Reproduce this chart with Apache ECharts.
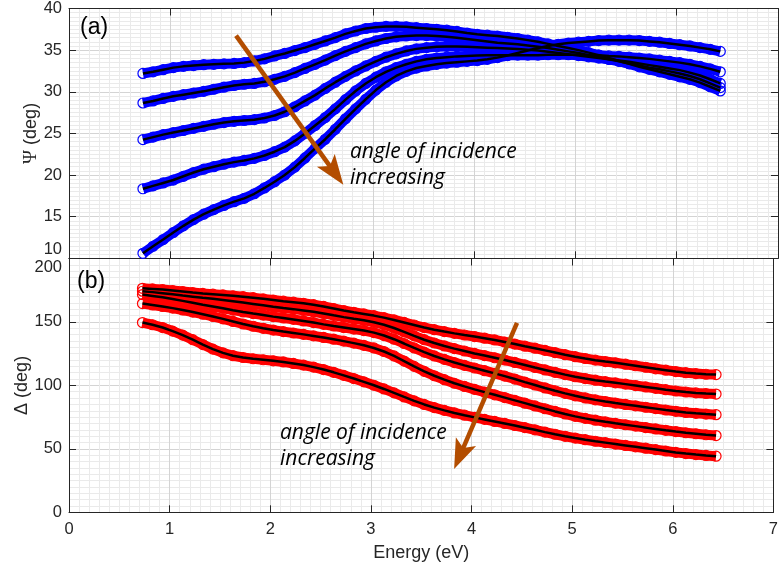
<!DOCTYPE html>
<html>
<head>
<meta charset="utf-8">
<title>Ellipsometric angles vs photon energy</title>
<script src="https://cdn.jsdelivr.net/npm/echarts@6.0.0/dist/echarts.min.js"></script>
<style>
  html, body { margin: 0; padding: 0; background: #ffffff; }
  #chart { width: 781px; height: 572px; }
</style>
</head>
<body>
<div id="chart"></div>
<script>
// Photon energy grid (eV)
const energy = [
  0.73, 0.83, 0.93, 1.03, 1.13, 1.23, 1.33, 1.43, 1.53, 1.63,
  1.73, 1.83, 1.93, 2.03, 2.13, 2.23, 2.33, 2.43, 2.53, 2.63,
  2.73, 2.83, 2.93, 3.03, 3.13, 3.23, 3.33, 3.43, 3.53, 3.63,
  3.73, 3.83, 3.93, 4.03, 4.13, 4.23, 4.33, 4.43, 4.53, 4.63,
  4.73, 4.83, 4.93, 5.03, 5.13, 5.23, 5.33, 5.43, 5.53, 5.63,
  5.73, 5.83, 5.93, 6.03, 6.13, 6.23, 6.33, 6.43
];

// Psi (deg), one array per angle of incidence (smallest angle first)
const psi1 = [
  32.2, 32.4, 32.65, 32.9, 33.05, 33.15, 33.25, 33.3, 33.35, 33.4,
  33.5, 33.7, 33.95, 34.3, 34.6, 34.95, 35.3, 35.7, 36.1, 36.5,
  36.95, 37.3, 37.6, 37.75, 37.85, 37.85, 37.8, 37.7, 37.6, 37.5,
  37.4, 37.25, 37.05, 36.9, 36.8, 36.7, 36.55, 36.4, 36.2, 36.0,
  35.75, 35.5, 35.25, 35.0, 34.7, 34.4, 34.05, 33.7, 33.35, 33.0,
  32.7, 32.4, 32.1, 31.8, 31.5, 31.1, 30.6, 30.1
];
const psi2 = [
  28.65, 28.9, 29.2, 29.45, 29.65, 29.85, 30.05, 30.3, 30.55, 30.75,
  30.9, 31.0, 31.2, 31.5, 31.85, 32.3, 32.8, 33.3, 33.8, 34.35,
  34.85, 35.3, 35.75, 36.1, 36.4, 36.6, 36.7, 36.75, 36.75, 36.7,
  36.6, 36.5, 36.35, 36.2, 36.05, 35.9, 35.8, 35.7, 35.55, 35.4,
  35.25, 35.05, 34.85, 34.65, 34.4, 34.15, 33.9, 33.65, 33.4, 33.15,
  32.9, 32.7, 32.45, 32.2, 31.9, 31.5, 31.0, 30.5
];
const psi3 = [
  24.25, 24.55, 24.85, 25.1, 25.35, 25.6, 25.85, 26.1, 26.3, 26.45,
  26.55, 26.65, 26.85, 27.15, 27.6, 28.2, 28.9, 29.6, 30.4, 31.15,
  31.85, 32.5, 33.1, 33.65, 34.15, 34.55, 34.9, 35.15, 35.3, 35.4,
  35.45, 35.45, 35.4, 35.35, 35.3, 35.25, 35.2, 35.15, 35.05, 34.95,
  34.8, 34.65, 34.5, 34.35, 34.2, 34.05, 33.9, 33.75, 33.6, 33.4,
  33.2, 33.0, 32.8, 32.6, 32.3, 31.95, 31.5, 31.0
];
const psi4 = [
  18.35, 18.7, 19.05, 19.4, 19.85, 20.3, 20.7, 21.0, 21.3, 21.55,
  21.75, 22.0, 22.35, 22.8, 23.35, 24.1, 25.0, 25.95, 26.9, 27.95,
  29.05, 30.1, 31.0, 31.75, 32.4, 32.9, 33.3, 33.65, 33.9, 34.05,
  34.15, 34.25, 34.3, 34.35, 34.4, 34.4, 34.4, 34.4, 34.4, 34.4,
  34.45, 34.45, 34.45, 34.45, 34.4, 34.4, 34.3, 34.25, 34.15, 34.05,
  33.95, 33.8, 33.65, 33.5, 33.3, 33.05, 32.75, 32.4
];
const psi5 = [
  10.6, 11.45, 12.25, 13.1, 13.9, 14.65, 15.3, 15.85, 16.35, 16.8,
  17.2, 17.75, 18.45, 19.2, 20.0, 20.95, 22.05, 23.2, 24.3, 25.5,
  26.75, 27.95, 29.1, 30.2, 31.15, 31.9, 32.45, 32.85, 33.1, 33.3,
  33.45, 33.55, 33.65, 33.75, 33.9, 34.1, 34.35, 34.65, 34.95, 35.25,
  35.5, 35.7, 35.85, 35.95, 36.05, 36.15, 36.2, 36.2, 36.2, 36.15,
  36.05, 35.95, 35.8, 35.65, 35.5, 35.3, 35.1, 34.85
];

// Delta (deg), same angle order
const delta1 = [
  176.5, 176.0, 175.5, 174.8, 174.0, 173.2, 172.5, 171.9, 171.3, 170.6,
  169.9, 169.1, 168.2, 167.3, 166.4, 165.6, 164.7, 163.6, 162.2, 160.6,
  159.0, 157.6, 156.3, 155.0, 153.4, 151.6, 149.6, 147.6, 145.6, 143.9,
  142.4, 141.0, 139.7, 138.5, 137.2, 135.8, 134.2, 132.6, 130.9, 129.3,
  127.6, 125.9, 124.2, 122.6, 121.2, 119.9, 118.8, 117.8, 116.7, 115.5,
  114.3, 113.1, 112.0, 110.9, 110.0, 109.3, 108.8, 108.5
];
const delta2 = [
  174.2, 173.5, 172.7, 171.8, 170.8, 169.9, 169.0, 168.2, 167.3, 166.3,
  165.3, 164.2, 163.1, 162.0, 161.0, 160.1, 159.1, 158.0, 156.7, 155.2,
  153.8, 152.5, 151.3, 149.8, 147.8, 145.2, 142.2, 139.0, 136.0, 133.4,
  131.1, 129.0, 127.1, 125.2, 123.5, 121.8, 120.0, 118.1, 116.1, 114.1,
  112.2, 110.3, 108.5, 106.8, 105.4, 104.1, 103.0, 102.0, 101.0, 99.9,
  98.8, 97.7, 96.6, 95.6, 94.8, 94.1, 93.6, 93.2
];
const delta3 = [
  171.6, 170.5, 169.4, 168.1, 166.6, 165.1, 163.6, 162.2, 160.8, 159.3,
  157.9, 156.6, 155.4, 154.2, 153.1, 152.0, 150.8, 149.5, 148.1, 146.8,
  145.6, 144.4, 143.2, 141.6, 139.3, 136.4, 133.0, 129.5, 126.2, 123.2,
  120.5, 118.0, 115.8, 113.7, 111.6, 109.5, 107.3, 105.0, 102.6, 100.3,
  98.0, 95.8, 93.7, 91.8, 90.1, 88.6, 87.3, 86.1, 85.0, 83.9,
  82.8, 81.7, 80.6, 79.6, 78.7, 78.0, 77.4, 76.9
];
const delta4 = [
  164.5, 163.4, 162.2, 160.9, 159.4, 157.8, 156.1, 154.3, 152.4, 150.4,
  148.4, 146.6, 145.0, 143.6, 142.4, 141.3, 140.2, 139.0, 137.8, 136.4,
  134.9, 133.3, 131.6, 129.5, 126.7, 123.2, 119.2, 115.0, 111.1, 107.6,
  104.5, 101.7, 99.2, 96.9, 94.7, 92.6, 90.4, 88.2, 86.0, 83.8,
  81.6, 79.5, 77.5, 75.6, 74.0, 72.6, 71.3, 70.1, 69.0, 67.9,
  66.8, 65.7, 64.6, 63.6, 62.7, 61.9, 61.1, 60.5
];
const delta5 = [
  149.5, 147.8, 145.6, 142.8, 139.6, 136.0, 132.2, 128.6, 125.6, 123.4,
  122.0, 121.0, 120.2, 119.4, 118.5, 117.3, 116.0, 114.4, 112.5, 110.3,
  107.9, 105.4, 102.8, 100.1, 97.2, 94.1, 90.9, 87.8, 85.0, 82.5,
  80.3, 78.3, 76.5, 74.8, 73.2, 71.6, 70.0, 68.4, 66.7, 65.0,
  63.2, 61.5, 59.9, 58.5, 57.2, 56.0, 54.9, 53.8, 52.7, 51.6,
  50.5, 49.4, 48.3, 47.2, 46.3, 45.5, 44.8, 44.2
];

const psiSets = [psi1, psi2, psi3, psi4, psi5];
const deltaSets = [delta1, delta2, delta3, delta4, delta5];

// Axis ranges and tick steps
const energyRange = [0, 7], energyStep = 1;
const psiRange = [10, 40], psiStep = 5;
const deltaRange = [0, 200], deltaStep = 50;

// "angle of incidence increasing" arrows: [start, end] in data units
const psiArrow = [[1.649, 36.75], [2.622, 20.29]];
const deltaArrow = [[4.452, 149.3], [3.886, 44.9]];

const AXIS = '#262626', GRID = '#d4d4d4', MINOR = '#eaeaea';
const BLUE = '#0000ff', RED = '#ff0000', ARROW = '#b34d00';
const TICK_FONT = { color: AXIS, fontSize: 16.5, fontFamily: 'Liberation Sans' };
const NAME_FONT = { color: AXIS, fontSize: 18, fontFamily: 'Liberation Sans' };

const chart = echarts.init(document.getElementById('chart'), null, { renderer: 'canvas', width: 781, height: 572 });

const pairs = ys => energy.map((e, i) => [e, ys[i]]);

function measured(ys, color, g) {
  return {
    type: 'line', xAxisIndex: g * 2, yAxisIndex: g * 2, data: pairs(ys),
    symbol: 'circle', symbolSize: 10, showSymbol: true, showAllSymbol: true,
    itemStyle: { color: 'rgba(0,0,0,0)', borderColor: color, borderWidth: 1.2 },
    lineStyle: { color: color, width: 10 },
    emphasis: { disabled: true }, silent: true, animation: false, z: 2
  };
}
function model(ys, g) {
  return {
    type: 'line', xAxisIndex: g * 2, yAxisIndex: g * 2, data: pairs(ys),
    symbol: 'none', lineStyle: { color: '#000000', width: 2.5 },
    emphasis: { disabled: true }, silent: true, animation: false, z: 3
  };
}
function arrowSeries(seg, g) {
  return {
    type: 'line', xAxisIndex: g * 2, yAxisIndex: g * 2, data: [],
    silent: true, animation: false, z: 10,
    markLine: {
      silent: true, animation: false, symbol: ['none', 'none'],
      lineStyle: { color: ARROW, width: 4.5, type: 'solid', opacity: 1 },
      label: { show: false }, emphasis: { disabled: true },
      data: [[
        { coord: seg[0], symbol: 'none' },
        { coord: seg[1], symbol: 'path://M0,0 L11,30 L0,23 L-11,30 Z', symbolSize: [22, 30] }
      ]]
    }
  };
}

function xAxes(g, withLabels) {
  const base = {
    type: 'value', gridIndex: g, min: energyRange[0], max: energyRange[1], interval: energyStep,
    axisLine: { show: true, onZero: false, lineStyle: { color: AXIS, width: 1 } },
    axisTick: { show: true, inside: true, length: 7, lineStyle: { color: AXIS } }
  };
  return [
    Object.assign({}, base, {
      position: 'bottom',
      axisLabel: Object.assign({ show: withLabels, margin: 9 }, TICK_FONT),
      splitLine: { show: true, lineStyle: { color: GRID, width: 1 } },
      minorTick: { show: false, splitNumber: 10 },
      minorSplitLine: { show: true, lineStyle: { color: MINOR, width: 1 } },
      name: withLabels ? 'Energy (eV)' : '', nameLocation: 'middle', nameGap: 32,
      nameMoveOverlap: false,
      nameTextStyle: NAME_FONT
    }),
    Object.assign({}, base, {
      position: 'top', axisLabel: { show: false }, splitLine: { show: false }
    })
  ];
}
function yAxes(g, range, step, name, nameGap, rich, labelExtra) {
  const base = {
    type: 'value', gridIndex: g, min: range[0], max: range[1], interval: step,
    axisLine: { show: true, onZero: false, lineStyle: { color: AXIS, width: 1 } },
    axisTick: { show: true, inside: true, length: 7, lineStyle: { color: AXIS } }
  };
  return [
    Object.assign({}, base, {
      position: 'left',
      axisLabel: Object.assign({ show: true, margin: 7 }, TICK_FONT, labelExtra),
      splitLine: { show: true, lineStyle: { color: GRID, width: 1 } },
      minorTick: { show: false, splitNumber: 10 },
      minorSplitLine: { show: true, lineStyle: { color: MINOR, width: 1 } },
      name: name, nameLocation: 'middle', nameGap: nameGap, nameMoveOverlap: false,
      nameTextStyle: Object.assign({}, NAME_FONT, { rich: rich || {} })
    }),
    Object.assign({}, base, {
      position: 'right', axisLabel: { show: false }, splitLine: { show: false }
    })
  ];
}

const series = [];
psiSets.forEach(ys => series.push(measured(ys, BLUE, 0)));
deltaSets.forEach(ys => series.push(measured(ys, RED, 1)));
psiSets.forEach(ys => series.push(model(ys, 0)));
deltaSets.forEach(ys => series.push(model(ys, 1)));
series.push(arrowSeries(psiArrow, 0));
series.push(arrowSeries(deltaArrow, 1));

const panelLabel = (text, x, y) => ({
  type: 'text', x: x, y: y, silent: true, z: 20,
  style: { text: text, fontSize: 23, fontFamily: 'Liberation Sans', fill: '#000000', verticalAlign: 'middle' }
});
const note = (x, y) => ({
  type: 'text', x: x, y: y, silent: true, z: 20,
  style: {
    text: 'angle of incidence\nincreasing', fontSize: 21, fontStyle: 'italic',
    fontFamily: 'Open Sans', lineHeight: 26, fill: '#000000', verticalAlign: 'top'
  }
});

chart.setOption({
  animation: false,
  backgroundColor: '#ffffff',
  textStyle: { fontFamily: 'Liberation Sans' },
  grid: [
    { left: 69, top: 6, width: 709, height: 252.3, containLabel: false },
    { left: 69, top: 258.5, width: 709, height: 253.8, containLabel: false }
  ],
  xAxis: xAxes(0, false).concat(xAxes(1, true)),
  yAxis: yAxes(0, psiRange, psiStep, '{g|\u03A8} (deg)', 28,
               { g: { fontFamily: 'Liberation Serif', fontSize: 19, color: AXIS } },
               { verticalAlignMinLabel: 'bottom' })
    .concat(yAxes(1, deltaRange, deltaStep, '\u0394 (deg)', 38, null,
               { verticalAlignMaxLabel: 'top' })),
  series: series,
  graphic: [
    panelLabel('(a)', 80, 28),
    panelLabel('(b)', 77, 282),
    note(350, 139),
    note(280, 420)
  ]
});
</script>
</body>
</html>
